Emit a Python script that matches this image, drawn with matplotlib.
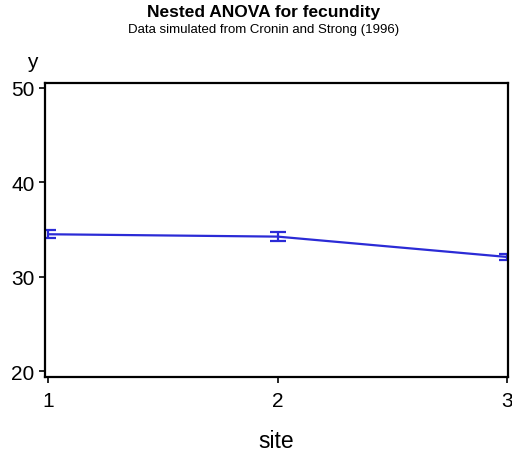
import matplotlib
matplotlib.use("Agg")
import matplotlib.pyplot as plt

plt.rcParams['font.family'] = ['Liberation Sans', 'DejaVu Sans']

site = [1, 2, 3]
mean_y = [34.5, 34.25, 32.1]
err_y = [0.4, 0.45, 0.35]

fig = plt.figure(figsize=(5.12, 4.52), dpi=100)
ax = fig.add_axes([45 / 512, 1 - 378 / 452, 463 / 512, 294 / 452])

ax.errorbar(site, mean_y, yerr=err_y, color='#2b2bd6', lw=1.6,
            capsize=6, capthick=1.6, elinewidth=1.6)

ax.set_xlim(0.985, 3.005)
ax.set_ylim(19.4, 50.5)
ax.set_xticks(site)
ax.set_yticks([20, 30, 40, 50])
ax.tick_params(labelsize=15, length=4, width=1.2, direction='out')
ax.tick_params(axis='x', pad=6)
for s in ax.spines.values():
    s.set_linewidth(1.6)

ax.set_xlabel('site', fontsize=16.5, labelpad=14)
fig.text(32 / 512, 1 - 62 / 452, 'y', fontsize=15, ha='center', va='center')

fig.text(0.515, 1 - 12 / 452, 'Nested ANOVA for fecundity', fontsize=12.5,
         fontweight='bold', ha='center', va='center')
fig.text(0.515, 1 - 30 / 452, 'Data simulated from Cronin and Strong (1996)',
         fontsize=9.5, ha='center', va='center')

fig.savefig('out.png', dpi=100)
